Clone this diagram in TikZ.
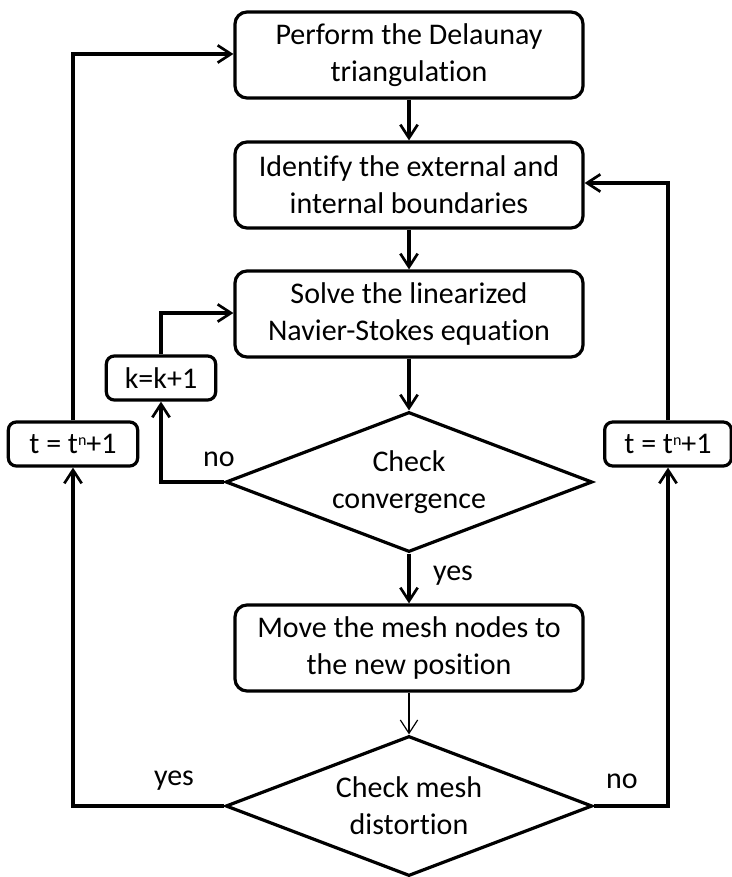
\documentclass[tikz,border=0pt]{standalone}
\usepackage{fontspec}
\setmainfont{Carlito}[RawFeature={-liga}]
\usetikzlibrary{shapes.geometric,arrows.meta}
\newcommand{\supn}{\raisebox{0.55ex}{\fontsize{12}{12}\selectfont n}}
\begin{document}
\begin{tikzpicture}[x=0.75pt,y=-0.75pt,
  font=\fontsize{22.5}{28}\selectfont,
  every node/.style={inner sep=0pt,align=center},
  stepbox/.style={draw,line width=2.4pt,rounded corners=9pt,minimum width=261pt,minimum height=64.5pt},
  smallbox/.style={draw,line width=2.4pt,rounded corners=6pt,minimum height=33pt},
  decision/.style={draw,line width=2.4pt,diamond,aspect=2.64,minimum width=275pt,minimum height=105pt},
  conn/.style={line width=2.4pt,-{Straight Barb[length=10pt,width=13pt,line width=2pt]}},
  thinconn/.style={line width=0.9pt,-{Straight Barb[length=10pt,width=13pt,line width=0.9pt]}},
  lbl/.style={}
]
\useasboundingbox (0,0) rectangle (731,877);
\node[stepbox] (b1) at (409,55) {Perform the Delaunay\\triangulation};
\node[stepbox] (b2) at (409,185) {Identify the external and\\internal boundaries};
\node[stepbox] (b3) at (409,314) {Solve the linearized\\Navier-Stokes equation};
\node[decision] (d1) at (409,482) {Check\\convergence};
\node[stepbox] (b4) at (409,648) {Move the mesh nodes to\\the new position};
\node[decision] (d2) at (409,806) {Check mesh\\distortion};
\node[smallbox,minimum width=82pt] (k) at (161,378) {k=k+1};
\node[smallbox,minimum width=97pt] (tL) at (73,444) {t = t\supn+1};
\node[smallbox,minimum width=95pt] (tR) at (668,444) {t = t\supn+1};

\coordinate (kc) at (161,482);
\coordinate (kt) at (161,313);
\coordinate (lc) at (73,806);
\coordinate (lt) at (73,54);
\coordinate (rc) at (668,806);
\coordinate (rt) at (668,183);

\draw[conn] (b1.south) -- (b2.north);
\draw[conn] (b2.south) -- (b3.north);
\draw[conn] (b3.south) -- (d1.north);
\draw[conn] (d1.west) -- (kc) -- (k.south);
\draw[conn] (k.north) -- (kt) -- (b3.west |- kt);
\draw[conn] (d1.south) -- (b4.north);
\draw[thinconn] (b4.south) -- (d2.north);
\draw[conn] (d2.west) -- (lc) -- (tL.south);
\draw[conn] (tL.north) -- (lt) -- (b1.west |- lt);
\draw[conn] (d2.east) -- (rc) -- (tR.south);
\draw[conn] (tR.north) -- (rt) -- (b2.east |- rt);

\node[lbl] (nolbl1) at (219,459) {no};
\node[lbl] (yeslbl1) at (453,576) {yes};
\node[lbl] (yeslbl2) at (174,781) {yes};
\node[lbl] (nolbl2) at (622,781) {no};
\end{tikzpicture}
\end{document}
